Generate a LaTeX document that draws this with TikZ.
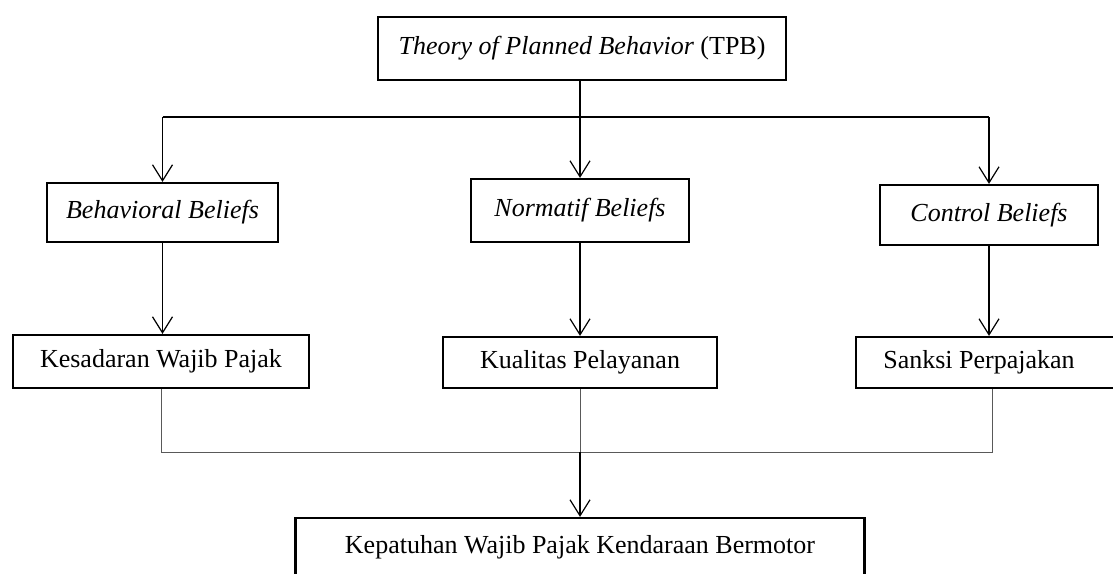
\documentclass[tikz,border=0pt]{standalone}
\usepackage{fontspec}
\setmainfont{Liberation Serif}
\usepackage{tikz}
\usetikzlibrary{positioning, arrows.meta}

\begin{document}
\begin{tikzpicture}[x=0.5pt, y=-0.5pt, >={Straight Barb[length=8pt, width=10pt]},
    box/.style={draw, line width=1.1pt, inner sep=0pt, align=center,
        font=\fontsize{13}{15}\selectfont},
    link/.style={line width=0.6pt},
    bus/.style={line width=0.5pt, black!65}]
    \useasboundingbox (0,0) rectangle (1113,573);
    % Theory at the top
    \node[box, minimum width=204pt, minimum height=31.5pt] (tpb) at (582,48.5)
        {\textit{Theory of Planned Behavior} (TPB)};
    % Beliefs row
    \node[box, minimum width=115.5pt, minimum height=29.5pt] (behav) at (162.5,212.5)
        {\textit{Behavioral Beliefs}};
    \node[box, minimum width=109pt, minimum height=31.5pt] (norm) at (580,210.5)
        {\textit{Normatif Beliefs}};
    \node[box, minimum width=109pt, minimum height=30pt] (ctrl) at (989,215)
        {\textit{Control Beliefs}};
    % Variables row
    \node[box, minimum width=148pt, minimum height=26.5pt] (kesad) at (161,361.5)
        {Kesadaran Wajib Pajak};
    \node[box, minimum width=137pt, minimum height=25.5pt] (kual) at (580,362.5)
        {Kualitas Pelayanan};
    \node[box, minimum width=136pt, minimum height=25.5pt] (sanksi) at (992,362.5)
        {\hspace*{-13pt}Sanksi Perpajakan};
    % Outcome
    \node[box, minimum width=284.5pt, minimum height=29pt] (kepat) at (580,547)
        {Kepatuhan Wajib Pajak Kendaraan Bermotor};
    % Split from the theory
    \coordinate (split) at (580,117);
    \draw[link] (split |- tpb.south) -- (split);
    \draw[link] (behav |- split) -- (ctrl |- split);
    \draw[link, ->] (behav |- split) -- (behav);
    \draw[link, ->] (norm |- split) -- (norm);
    \draw[link, ->] (ctrl |- split) -- (ctrl);
    % Beliefs to variables
    \draw[link, ->] (behav.south) -- (kesad.north -| behav.south);
    \draw[link, ->] (norm.south) -- (kual.north -| norm.south);
    \draw[link, ->] (ctrl.south) -- (sanksi.north -| ctrl.south);
    % Join to the outcome
    \coordinate (join) at (580,452);
    \draw[bus] (kesad.south) -- (kesad.south |- join) -- (sanksi.south |- join) -- (sanksi.south);
    \draw[bus] (kual.south) -- (kual.south |- join);
    \draw[link, ->] (kepat.north |- join) -- (kepat.north);
\end{tikzpicture}
\end{document}
